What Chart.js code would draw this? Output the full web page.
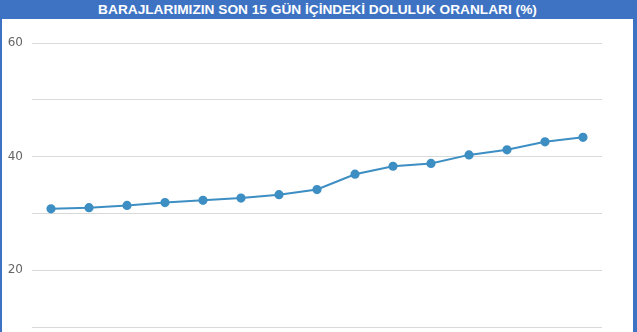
<!DOCTYPE html>
<html>
<head>
<meta charset="utf-8">
<script src="https://cdn.jsdelivr.net/npm/chart.js@4/dist/chart.umd.min.js"></script>
<style>
  html, body { margin: 0; padding: 0; background: #fff; overflow: hidden; }
  #frame { position: relative; width: 637px; height: 420px; box-sizing: border-box;
           border-left: 2px solid #3e73c4; border-right: 4px solid #3e73c4; background: #fff; }
  #title { height: 19px; background: #3e73c4; color: #fff; font-family: "Liberation Sans", Arial, sans-serif;
           font-weight: bold; font-size: 13.7px; line-height: 20px; text-align: center; }
  #wrap { position: absolute; left: 0; top: 19px; width: 631px; height: 381px; }
</style>
</head>
<body>
<div id="frame">
  <div id="title">BARAJLARIMIZIN SON 15 GÜN İÇİNDEKİ DOLULUK ORANLARI (%)</div>
  <div id="wrap"><canvas id="c"></canvas></div>
</div>
<script>
const days = ["1","2","3","4","5","6","7","8","9","10","11","12","13","14","15"];
const fillRates = [30.8, 31.0, 31.4, 31.9, 32.3, 32.7, 33.3, 34.2, 36.9, 38.3, 38.8, 40.3, 41.2, 42.6, 43.4];
const yTicksShown = [0, 20, 40, 60];

new Chart(document.getElementById('c'), {
  type: 'line',
  data: {
    labels: days,
    datasets: [{
      data: fillRates,
      borderColor: '#3d8ec3',
      backgroundColor: '#3d8ec3',
      borderWidth: 2,
      pointRadius: 3.6,
      pointHoverRadius: 3.6,
      tension: 0,
      fill: false
    }]
  },
  options: {
    responsive: true,
    maintainAspectRatio: false,
    animation: false,
    layout: { padding: { top: 24, right: 31, bottom: 0, left: 0 } },
    plugins: { legend: { display: false }, tooltip: { enabled: false }, title: { display: false } },
    scales: {
      x: { display: false, offset: true },
      y: {
        min: 0, max: 60,
        afterFit: s => { s.width = 30; },
        border: { display: false },
        grid: { color: '#d9d9d9', lineWidth: 1, drawTicks: false },
        ticks: {
          stepSize: 10,
          padding: 9,
          color: '#666',
          font: { family: 'DejaVu Sans', size: 12 },
          callback: v => yTicksShown.includes(v) ? String(v) : ''
        }
      }
    }
  }
});
</script>
</body>
</html>
